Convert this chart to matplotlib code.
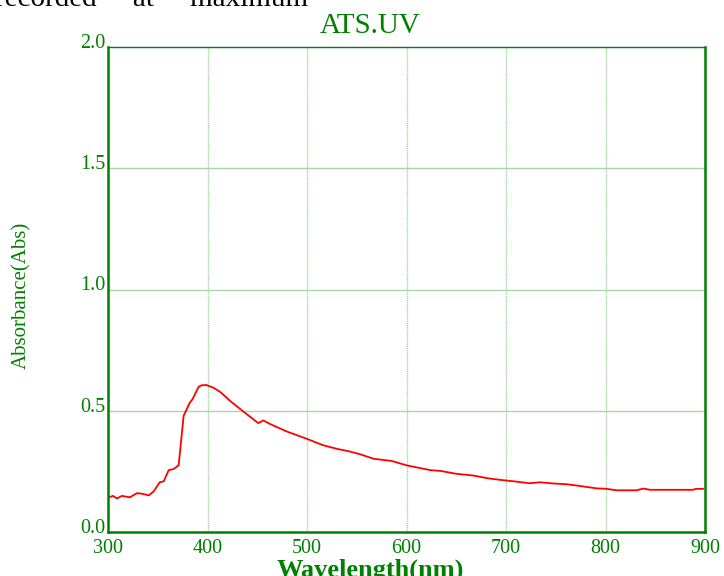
import matplotlib.pyplot as plt
import matplotlib.transforms as mtransforms

# spectrum
wavelength = [301, 305, 309, 314, 322, 329, 334, 341, 346, 352, 356, 361, 366, 371,
              376, 382, 385, 391, 394, 399, 406, 413, 424, 436, 451, 456, 463, 480,
              500, 516, 530, 543, 553, 567, 585, 600, 624, 634, 650, 667, 681, 694,
              710, 724, 734, 748, 761, 774, 791, 801, 811, 831, 838, 845, 888, 891, 898]
absorbance = [0.143, 0.149, 0.138, 0.149, 0.143, 0.160, 0.158, 0.151, 0.168, 0.205,
              0.209, 0.255, 0.260, 0.275, 0.479, 0.532, 0.548, 0.598, 0.605, 0.606,
              0.595, 0.577, 0.536, 0.497, 0.449, 0.460, 0.445, 0.414, 0.384, 0.358,
              0.343, 0.332, 0.321, 0.302, 0.293, 0.275, 0.255, 0.252, 0.240, 0.233,
              0.222, 0.215, 0.208, 0.201, 0.205, 0.200, 0.197, 0.190, 0.180, 0.178,
              0.172, 0.172, 0.179, 0.174, 0.174, 0.178, 0.178]

xticks = [300, 400, 500, 600, 700, 800, 900]
yticks = [0.0, 0.5, 1.0, 1.5, 2.0]

green = '#008000'
grid_green = '#a8d8a8'
serif = 'Liberation Serif'

plt.rcParams['font.family'] = serif

fig = plt.figure(figsize=(7.24, 5.76), dpi=100)
ax = fig.add_axes([108/724, 1-532/576, (705-108)/724, (532-47)/576])

ax.plot(wavelength, absorbance, color='red', lw=1.3)

ax.set_xlim(300, 900)
ax.set_ylim(0, 2.0)
ax.set_xticks(xticks)
ax.set_yticks(yticks)
ax.set_xticklabels([str(t) for t in xticks])
ax.set_yticklabels(['%.1f' % t for t in yticks])

for x in xticks[1:-1]:
    ax.axvline(x, color=grid_green, lw=1.0, ls=(0, (1, 0.5)), zorder=0)
for y in yticks[1:-1]:
    ax.axhline(y, color=grid_green, lw=1.0, zorder=0)

for side in ['left', 'bottom', 'right']:
    ax.spines[side].set_color(green)
    ax.spines[side].set_linewidth(1.8)
ax.spines['top'].set_color(green)
ax.spines['top'].set_linewidth(1.0)

ax.tick_params(axis='both', length=0, colors=green, labelsize=14.5)
ax.tick_params(axis='x', pad=5)
ax.tick_params(axis='y', pad=2)
off = mtransforms.ScaledTranslation(0, 6/100, fig.dpi_scale_trans)
for lab in ax.get_yticklabels():
    lab.set_transform(lab.get_transform() + off)

fig.text(370/724, 1-33/576, 'ATS.UV', color=green, fontsize=21,
         ha='center', va='baseline')
fig.text(22/724, 1-295/576, 'Absorbance(Abs)', color=green, fontsize=15,
         rotation=90, ha='center', va='center')
fig.text(370/724, 1-577/576, 'Wavelength(nm)', color=green, fontsize=19,
         fontweight='bold', ha='center', va='baseline')

# leftover line of the page text above the chart
fig.text(-5/724, 1-6/576, 'recorded     at     maximum', color='black',
         fontsize=21, ha='left', va='baseline')

fig.savefig('out.png', dpi=100)
